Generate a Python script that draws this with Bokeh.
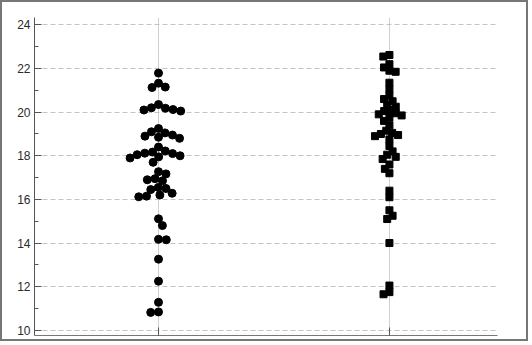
import math
from bokeh.plotting import figure
from bokeh.models import ColumnDataSource, FixedTicker, LinearAxis, Range1d
from bokeh.embed import file_html
from bokeh.resources import INLINE

# ---- data ----
categories = ["Group 1", "Group 2"]
group1_values = [21.79, 21.33, 21.15, 21.13,
                 20.35, 20.2, 20.18, 20.12, 20.1, 20.05,
                 19.25, 19.1, 19.05, 18.95, 18.9, 18.85, 18.8,
                 18.4, 18.22, 18.17, 18.12, 18.1, 18.05, 18.0, 17.95, 17.9, 17.7,
                 17.27, 17.17, 16.95, 16.9, 16.85, 16.55, 16.5, 16.45, 16.28, 16.2, 16.15, 16.12,
                 15.11, 14.8, 14.17, 14.15, 13.26, 12.25, 11.28, 10.84, 10.82]
group2_values = [22.62, 22.55, 22.2, 22.05, 21.9, 21.85,
                 21.35, 21.05,
                 20.75, 20.6, 20.5, 20.35, 20.25, 20.1, 20.05, 19.95, 19.9, 19.85, 19.75, 19.6,
                 19.4, 19.15, 19.05, 19.0, 18.95, 18.9, 18.75,
                 18.45, 18.2, 18.05, 17.95, 17.85,
                 17.6, 17.4, 17.2,
                 16.4, 16.1,
                 15.5, 15.25, 15.1,
                 14.0,
                 12.05, 11.75, 11.65]
y_ticks = [10, 12, 14, 16, 18, 20, 22, 24]
y_minor = [11, 13, 15, 17, 19, 21, 23]

# ---- geometry ----
W, H = 528, 341
FL, FR, FT, FB = 32, 495, 15, 333
x0, x1 = 0.463, 2.468
y0, y1 = 9.76, 24.34
pxx = (FR - FL) / (x1 - x0)
pxy = (FB - FT) / (y1 - y0)


def swarm(vals, center, d):
    order = sorted(range(len(vals)), key=lambda i: -vals[i])
    placed = []
    xs = [0.0] * len(vals)
    for k, i in enumerate(order):
        sy = vals[i] * pxy
        cands = [0.0]
        for (px, py) in placed:
            dy = abs(py - sy)
            if dy < d:
                dx = math.sqrt(d * d - dy * dy)
                cands += [px + dx, px - dx]
        best = None
        for c in sorted(cands, key=lambda c: (round(abs(c), 3), c if k % 2 else -c)):
            ok = all((c - px) ** 2 + (sy - py) ** 2 >= d * d - 1e-6 for (px, py) in placed)
            if ok:
                best = c
                break
        placed.append((best, sy))
        xs[i] = center + best / pxx
    return xs


src1 = ColumnDataSource(dict(x=swarm(group1_values, 1, 7.8), y=group1_values))
src2 = ColumnDataSource(dict(x=swarm(group2_values, 2, 6.3), y=group2_values))

p = figure(width=W, height=H, output_backend="svg", toolbar_location=None,
           x_range=Range1d(x0, x1), y_range=Range1d(y0, y1),
           x_axis_location=None, y_axis_location=None,
           min_border_left=FL, min_border_right=W - FR,
           min_border_top=FT, min_border_bottom=H - FB)
p.styles = {"border": "2px solid #777777"}
p.outline_line_color = None
p.background_fill_color = "white"
p.border_fill_color = "white"

yax = LinearAxis(ticker=FixedTicker(ticks=y_ticks, minor_ticks=y_minor))
yax.major_tick_in = 7
yax.major_tick_out = 0
yax.minor_tick_in = 4
yax.minor_tick_out = 0
yax.major_label_standoff = 4
yax.major_label_text_font = "Liberation Sans"
yax.major_label_text_font_size = "12px"
yax.major_label_text_color = "#2a2a2a"
yax.axis_line_color = "#555555"
yax.major_tick_line_color = "#555555"
yax.minor_tick_line_color = "#555555"
p.add_layout(yax, "left")

xax = LinearAxis(ticker=FixedTicker(ticks=[1, 2]))
xax.major_label_overrides = {1: "", 2: ""}
xax.major_tick_in = 8
xax.major_tick_out = 0
xax.minor_tick_line_color = None
xax.major_label_standoff = 0
xax.axis_line_color = "#777777"
xax.major_tick_line_color = "#555555"
p.add_layout(xax, "below")

p.ygrid.ticker = FixedTicker(ticks=y_ticks)
p.ygrid.grid_line_color = "#c4c4c4"
p.ygrid.grid_line_dash = "5 3"
p.xgrid.ticker = FixedTicker(ticks=[1, 2])
p.xgrid.grid_line_color = "#d0d0d0"

p.scatter("x", "y", source=src1, marker="circle", size=8, color="black")
p.scatter("x", "y", source=src2, marker="square", size=7, color="black")

open("out.html", "w").write(file_html(p, INLINE))
